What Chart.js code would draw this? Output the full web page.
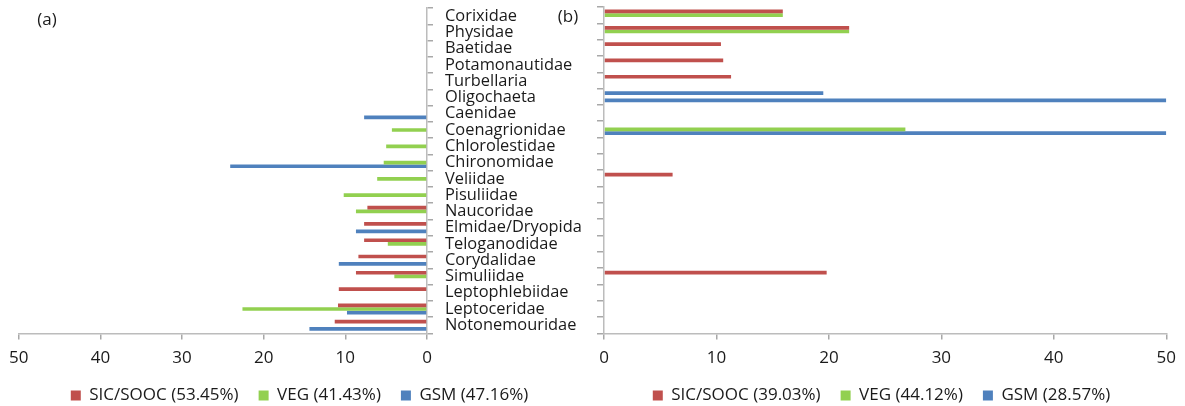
<!DOCTYPE html>
<html>
<head>
<meta charset="utf-8">
<script src="https://cdn.jsdelivr.net/npm/chart.js@4.4.1/dist/chart.umd.min.js"></script>
<style>
  html, body { margin: 0; padding: 0; background: #ffffff; }
  #wrap { position: relative; width: 1185px; height: 406px; overflow: hidden; background: #ffffff; }
  #ca { position: absolute; left: 0; top: 0; }
  #cb { position: absolute; left: 550px; top: 0; }
</style>
</head>
<body>
<div id="wrap">
  <canvas id="ca" width="581" height="416"></canvas>
  <canvas id="cb" width="635" height="416"></canvas>
</div>
<script>
// Macroinvertebrate families, top to bottom
const families = [
  'Corixidae', 'Physidae', 'Baetidae', 'Potamonautidae', 'Turbellaria',
  'Oligochaeta', 'Caenidae', 'Coenagrionidae', 'Chlorolestidae', 'Chironomidae',
  'Veliidae', 'Pisuliidae', 'Naucoridae', 'Elmidae/Dryopidae', 'Teloganodidae',
  'Corydalidae', 'Simuliidae', 'Leptophlebiidae', 'Leptoceridae', 'Notonemouridae'
];

// Panel (a) contributions (%)
const sicA = [null, null, null, null, null, null, null, null, null, null,
              null, null, 7.3, 7.7, 7.7, 8.4, 8.7, 10.8, 10.9, 11.3];
const vegA = [null, null, null, null, null, null, null, 4.3, 5.0, 5.3,
              6.1, 10.2, 8.7, null, 4.8, null, 4.0, null, 22.6, null];
const gsmA = [null, null, null, null, null, null, 7.7, null, null, 24.1,
              null, null, null, 8.7, null, 10.8, null, null, 9.8, 14.4];

// Panel (b) contributions (%)
const sicB = [15.9, 21.8, 10.4, 10.6, 11.3, 19.5, null, null, null, null,
              6.1, null, null, null, null, null, 19.8, null, null, null];
const vegB = [15.9, 21.8, null, null, null, null, null, 26.8, null, null,
              null, null, null, null, null, null, null, null, null, null];
const gsmB = [null, null, null, null, null, 50, null, 50, null, null,
              null, null, null, null, null, null, null, null, null, null];

// Legend entries (group and average similarity)
const legendA = ['SIC/SOOC (53.45%)', 'VEG (41.43%)', 'GSM (47.16%)'];
const legendB = ['SIC/SOOC (39.03%)', 'VEG (44.12%)', 'GSM (28.57%)'];

// Value axis ticks
const axisMin = 0;
const axisMax = 50;
const axisStep = 10;

const RED = '#C0504D';
const GREEN = '#92D050';
const BLUE = '#4F81BD';
const TEXT = '#1a1a1a';
const AXIS = '#bcbcbc';
const TICK = '#a8a8a8';
const FONT = "'Open Sans', 'Noto Sans', sans-serif";

// In panel (b) the Oligochaeta bar of the first group is shown in blue
const sicBColours = families.map(f => f === 'Oligochaeta' ? BLUE : RED);

Chart.defaults.font.family = FONT;
Chart.defaults.color = TEXT;

// Writes the panel letter, e.g. "(a)"
const panelTag = {
  id: 'panelTag',
  afterDraw(chart, args, opts) {
    const ctx = chart.ctx;
    ctx.save();
    ctx.font = opts.size + 'px ' + FONT;
    ctx.fillStyle = TEXT;
    ctx.textAlign = 'center';
    ctx.textBaseline = 'middle';
    ctx.fillText(opts.text, opts.x, opts.y);
    ctx.restore();
  }
};

function makeDatasets(labels, sic, veg, gsm, sicColours) {
  return [
    { label: labels[0], data: sic, backgroundColor: sicColours || RED },
    { label: labels[1], data: veg, backgroundColor: GREEN },
    { label: labels[2], data: gsm, backgroundColor: BLUE }
  ];
}

function legendOptions() {
  return {
    position: 'bottom',
    labels: {
      boxWidth: 10,
      boxHeight: 10,
      padding: 20,
      color: TEXT,
      font: { family: FONT, size: 17 },
      generateLabels(chart) {
        return chart.data.datasets.map((ds, i) => ({
          text: ds.label,
          fillStyle: [RED, GREEN, BLUE][i],
          strokeStyle: [RED, GREEN, BLUE][i],
          lineWidth: 0,
          hidden: false,
          datasetIndex: i,
          fontColor: TEXT
        }));
      }
    }
  };
}

function valueAxis(reverse) {
  return {
    type: 'linear',
    reverse: reverse,
    min: axisMin,
    max: axisMax,
    ticks: { stepSize: axisStep, color: TEXT, font: { family: FONT, size: 17 }, padding: 9 },
    grid: { drawOnChartArea: false, tickLength: 6, color: TICK, lineWidth: 1.5 },
    border: { color: AXIS, width: 1.5 },
    afterFit(s) { s.height = 33.6; }
  };
}

// Category axis: the plot area spans the full height between the margins
function trimCategoryAxis(s, width) {
  s.width = width;
  s.paddingTop = 0;
  s.paddingBottom = 0;
}

const shared = {
  indexAxis: 'y',
  responsive: false,
  animation: false,
  devicePixelRatio: 1,
  datasets: { bar: { categoryPercentage: 0.68, barPercentage: 1, borderWidth: 0 } },
  events: []
};

// Panel (a): bars grow to the left, family names to the right of the axis
new Chart(document.getElementById('ca'), {
  type: 'bar',
  data: { labels: families, datasets: makeDatasets(legendA, sicA, vegA, gsmA) },
  options: Object.assign({}, shared, {
    layout: { padding: { left: 18, right: 0, top: 8, bottom: 2 } },
    scales: {
      x: valueAxis(true),
      y: {
        position: 'right',
        ticks: { color: TEXT, font: { family: FONT, size: 16.4 }, padding: 12, autoSkip: false },
        grid: { drawOnChartArea: false, tickLength: 6, color: TICK, lineWidth: 1.5, offset: true },
        border: { color: AXIS, width: 1.5 },
        afterFit(s) { trimCategoryAxis(s, 154); }
      }
    },
    plugins: {
      legend: legendOptions(),
      tooltip: { enabled: false },
      panelTag: { text: '(a)', x: 47, y: 20, size: 17 }
    }
  }),
  plugins: [panelTag]
});

// Panel (b): bars grow to the right, category axis without labels
new Chart(document.getElementById('cb'), {
  type: 'bar',
  data: { labels: families, datasets: makeDatasets(legendB, sicB, vegB, gsmB, sicBColours) },
  options: Object.assign({}, shared, {
    layout: { padding: { left: 46, right: 18, top: 7, bottom: 2 } },
    scales: {
      x: valueAxis(false),
      y: {
        position: 'left',
        ticks: { display: false },
        grid: { drawOnChartArea: false, tickLength: 7, color: TICK, lineWidth: 1.5, offset: true },
        border: { color: AXIS, width: 1.5 },
        afterFit(s) { trimCategoryAxis(s, 8); }
      }
    },
    plugins: {
      legend: legendOptions(),
      tooltip: { enabled: false },
      panelTag: { text: '(b)', x: 18, y: 17, size: 17 }
    }
  }),
  plugins: [panelTag]
});
</script>
</body>
</html>
